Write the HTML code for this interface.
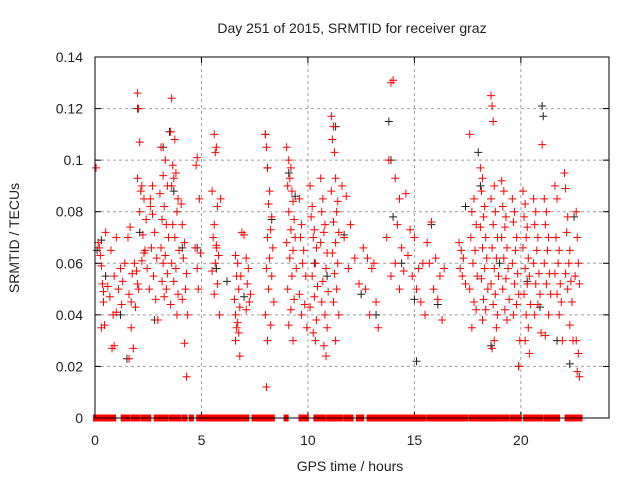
<!DOCTYPE html>
<html><head><meta charset="utf-8">
<style>
html,body{margin:0;padding:0;background:#fff;}
svg{display:block;font-family:"Liberation Sans",sans-serif;}
</style></head>
<body>
<svg id="chart" width="640" height="480" viewBox="0 0 640 480">
<rect x="0" y="0" width="640" height="480" fill="#fff"/>
<text x="352" y="33" font-size="14" text-anchor="middle" fill="#222">Day 251 of 2015, SRMTID for receiver graz</text>
<text transform="translate(19,238) rotate(-90)" font-size="14" text-anchor="middle" fill="#222">SRMTID / TECUs</text>
<text x="350" y="471" font-size="14" text-anchor="middle" fill="#222">GPS time / hours</text>
<g id="grid"></g>
<g id="ticks"></g>
<g id="zero"></g>
<g id="black"></g>
<g id="red"></g>
<rect x="95" y="57" width="514" height="361" fill="none" stroke="#000" stroke-width="1"/>
</svg>
<script>
const xTicks=[0,5,10,15,20];
const yTicks=[0,0.02,0.04,0.06,0.08,0.1,0.12,0.14];
const yTickLabels=["0","0.02","0.04","0.06","0.08","0.1","0.12","0.14"];
const redT=[0.05,0.2,0.25,0.3,0.35,0.4,0.45,0.3,0.5,0.15,0.4,
0.8,0.9,1.0,0.7,1.1,0.6,1.3,0.9,1.2,1.4,0.75,1.0,0.85,1.25,
1.6,1.8,1.7,1.9,1.6,2.0,1.75,1.85,2.3,1.55,1.65,2.2,1.95,1.7,2.05,
2.0,2.05,2.1,2.0,2.2,2.15,2.3,2.1,2.4,2.25,2.35,2.45,
2.6,2.7,2.8,2.65,2.9,2.75,2.55,2.85,2.95,2.6,2.7,
3.1,3.3,3.2,3.4,3.05,3.25,3.15,3.35,3.45,3.1,3.3,3.2,3.4,3.15,3.35,3.25,
3.6,3.55,3.75,3.65,3.8,3.7,3.6,3.9,3.85,3.65,3.75,3.95,3.6,3.8,3.7,3.9,3.55,3.85,
4.05,4.1,4.2,4.15,4.3,4.25,4.35,4.2,4.3,4.1,
4.8,4.75,4.9,4.7,4.95,4.8,4.85,
5.6,5.7,5.65,5.5,5.75,5.6,5.55,5.7,5.8,5.65,5.5,5.75,5.6,5.85,5.9,5.7,
6.6,6.7,6.65,6.75,6.55,6.8,6.6,6.7,6.65,6.75,6.6,6.8,6.9,7.0,6.85,
7.1,7.2,7.15,7.3,7.25,7.1,
8.0,8.05,8.1,8.2,8.15,8.3,8.25,8.1,8.35,8.2,8.05,8.3,8.15,8.4,8.0,8.25,8.1,8.05,
9.0,9.1,9.2,9.15,9.05,9.25,9.3,9.1,9.35,9.2,9.4,9.0,9.3,9.15,9.45,9.25,9.05,9.35,9.2,9.1,9.3,
9.6,9.7,9.65,9.8,9.75,9.9,9.6,9.85,9.7,9.95,
10.1,10.2,10.15,10.3,10.25,10.4,10.35,10.2,10.45,10.3,10.1,10.4,10.25,10.35,
10.6,10.7,10.65,10.8,10.75,10.6,10.9,10.85,10.7,10.95,10.65,10.8,10.9,10.75,10.85,
11.1,11.2,11.15,11.25,11.3,11.1,11.4,11.35,11.2,11.45,11.3,11.15,11.4,11.25,11.35,11.2,11.45,11.3,
11.6,11.8,12.0,11.7,12.2,11.9,12.4,
12.6,12.8,13.0,12.7,13.2,12.9,13.3,13.1,
13.9,14.0,13.8,14.1,14.3,14.2,13.7,14.4,14.1,13.9,14.3,
14.6,14.8,15.0,14.7,15.2,14.9,15.1,15.3,15.4,14.5,
15.8,15.6,16.0,15.7,16.2,15.9,16.1,15.5,16.3,16.4,
17.1,17.2,17.3,17.15,17.25,17.4,
17.6,17.8,17.7,17.9,17.65,17.85,17.75,17.95,17.6,17.8,17.9,17.7,
18.1,18.2,18.15,18.3,18.25,18.1,18.35,18.2,18.4,18.3,18.15,18.45,18.25,18.35,18.2,
18.6,18.65,18.7,18.75,18.6,18.8,18.7,18.9,18.65,18.85,18.75,18.95,18.6,18.8,18.7,18.9,18.85,18.75,18.65,
19.1,19.2,19.15,19.3,19.25,19.1,19.35,19.2,19.4,19.3,19.15,19.45,19.25,19.35,
19.6,19.7,19.65,19.8,19.75,19.6,19.85,19.7,19.9,19.8,19.65,19.95,19.9,
20.1,20.2,20.15,20.3,20.25,20.1,20.35,20.2,20.4,20.3,20.15,20.45,20.25,20.35,20.2,20.4,
20.6,20.7,20.65,20.8,20.75,20.6,20.85,20.7,20.9,20.8,20.65,20.95,
21.0,21.1,21.2,21.15,21.3,21.25,21.1,21.35,21.2,21.4,21.3,21.15,
21.6,21.7,21.65,21.8,21.75,21.6,21.85,21.7,21.9,21.8,21.95,
22.05,22.1,22.2,22.15,22.3,22.25,22.1,22.35,22.2,22.4,22.3,22.45,
22.6,22.65,22.7,22.55,22.75,22.6,22.7,22.65,22.75];
const redV=[0.097,0.066,0.063,0.059,0.052,0.045,0.036,0.035,0.072,0.068,0.049,
0.027,0.028,0.041,0.047,0.050,0.051,0.053,0.055,0.058,0.060,0.065,0.070,0.040,0.044,
0.023,0.027,0.035,0.043,0.048,0.052,0.056,0.060,0.064,0.070,0.074,0.061,0.057,0.045,0.050,
0.126,0.120,0.107,0.093,0.090,0.088,0.085,0.080,0.077,0.071,0.065,0.058,
0.082,0.079,0.072,0.066,0.062,0.055,0.050,0.046,0.038,0.085,0.090,
0.105,0.100,0.094,0.090,0.087,0.082,0.077,0.075,0.070,0.066,0.063,0.060,0.056,0.053,0.050,0.047,
0.124,0.111,0.108,0.098,0.095,0.093,0.090,0.085,0.080,0.075,0.070,0.065,0.060,0.058,0.053,0.048,0.044,0.040,
0.083,0.075,0.068,0.062,0.056,0.050,0.040,0.029,0.016,0.046,
0.101,0.098,0.085,0.066,0.064,0.058,0.050,
0.110,0.105,0.103,0.088,0.082,0.075,0.070,0.066,0.063,0.060,0.057,0.052,0.048,0.040,0.085,0.067,
0.063,0.060,0.055,0.050,0.046,0.043,0.040,0.037,0.035,0.033,0.030,0.024,0.072,0.071,0.055,
0.062,0.058,0.052,0.048,0.045,0.042,
0.110,0.105,0.097,0.088,0.083,0.078,0.073,0.070,0.066,0.062,0.058,0.055,0.050,0.045,0.040,0.036,0.030,0.012,
0.105,0.100,0.097,0.093,0.090,0.088,0.084,0.080,0.077,0.073,0.070,0.068,0.065,0.062,0.058,0.055,0.050,0.046,0.042,0.036,0.030,
0.085,0.075,0.070,0.065,0.060,0.055,0.048,0.044,0.040,0.035,
0.090,0.082,0.078,0.073,0.070,0.066,0.060,0.055,0.051,0.047,0.043,0.038,0.033,0.030,
0.093,0.085,0.080,0.075,0.072,0.068,0.064,0.058,0.053,0.049,0.045,0.040,0.035,0.028,0.024,
0.117,0.113,0.108,0.103,0.093,0.088,0.084,0.080,0.076,0.072,0.068,0.064,0.060,0.056,0.050,0.045,0.040,0.030,
0.090,0.086,0.075,0.070,0.062,0.058,0.052,
0.066,0.062,0.058,0.050,0.045,0.040,0.035,0.060,
0.130,0.131,0.100,0.093,0.085,0.075,0.070,0.066,0.060,0.055,0.050,
0.087,0.073,0.070,0.063,0.058,0.055,0.050,0.045,0.060,0.057,
0.076,0.068,0.062,0.060,0.055,0.050,0.046,0.040,0.038,0.058,
0.068,0.065,0.062,0.058,0.055,0.052,
0.110,0.085,0.080,0.075,0.070,0.065,0.060,0.055,0.050,0.045,0.042,0.035,
0.097,0.093,0.088,0.082,0.078,0.074,0.070,0.066,0.062,0.058,0.054,0.050,0.046,0.042,0.038,
0.125,0.121,0.115,0.090,0.085,0.080,0.075,0.070,0.066,0.062,0.058,0.055,0.052,0.048,0.044,0.040,0.035,0.030,0.027,
0.092,0.088,0.082,0.078,0.074,0.070,0.066,0.062,0.058,0.054,0.050,0.046,0.042,0.038,
0.085,0.080,0.076,0.070,0.065,0.060,0.056,0.052,0.048,0.044,0.040,0.030,0.020,
0.088,0.083,0.078,0.074,0.070,0.066,0.062,0.058,0.055,0.052,0.048,0.044,0.040,0.035,0.030,0.025,
0.085,0.080,0.075,0.070,0.065,0.060,0.056,0.052,0.048,0.044,0.040,0.033,
0.106,0.085,0.080,0.075,0.070,0.065,0.060,0.056,0.052,0.048,0.040,0.032,
0.090,0.085,0.070,0.065,0.060,0.056,0.052,0.048,0.045,0.040,0.030,
0.095,0.089,0.078,0.072,0.065,0.060,0.056,0.053,0.050,0.045,0.036,0.030,
0.080,0.070,0.060,0.055,0.052,0.030,0.025,0.018,0.016];
const blackT=[0.1,0.3,0.5,1.2,1.5,2.0,2.1,2.8,3.2,3.5,3.7,4.1,4.8,5.7,6.2,7.0,8.0,8.1,8.3,9.1,9.4,10.3,10.9,11.3,11.7,12.5,13.2,13.8,13.9,14.0,14.4,15.0,15.1,15.8,16.1,17.4,18.0,18.1,18.6,19.0,19.9,20.3,20.9,21.0,21.05,21.7,22.3,22.5];
const blackV=[0.065,0.069,0.055,0.040,0.023,0.120,0.072,0.038,0.105,0.111,0.088,0.066,0.066,0.058,0.053,0.047,0.110,0.097,0.077,0.095,0.086,0.060,0.055,0.113,0.071,0.048,0.040,0.115,0.100,0.078,0.060,0.046,0.022,0.075,0.044,0.082,0.103,0.090,0.028,0.060,0.020,0.053,0.043,0.121,0.117,0.030,0.021,0.078];
const zeroStart=[0.0,0.5,1.3,1.75,2.25,2.85,3.55,4.15,4.5,4.85,5.5,5.9,6.35,6.9,7.45,7.65,8.95,9.65,10.35,10.95,11.15,11.75,12.35,12.85,13.25,14.0,14.25,14.8,15.1,15.65,16.5,17.25,17.65,18.3,18.6,18.95,19.55,20.2,20.35,20.75,21.15,22.15,22.6];
const zeroEnd=[0.35,0.9,1.55,2.05,2.55,3.35,3.95,4.25,4.55,5.4,5.8,6.2,6.8,7.15,7.5,8.35,9.0,9.95,10.75,11.0,11.55,12.05,12.55,13.1,13.85,14.1,14.7,15.0,15.45,16.4,17.1,17.45,18.2,18.45,18.8,19.35,19.95,20.25,20.7,20.95,21.75,22.45,22.8];

const X0=95,X1=609,Y0=418,Y1=57,TMAX=24.14,VMAX=0.14;
function sx(t){return X0+t/TMAX*(X1-X0);}
function sy(v){return Y0-v/VMAX*(Y0-Y1);}
const NS='http://www.w3.org/2000/svg';
function mk(tag,attrs,parent){const e=document.createElementNS(NS,tag);for(const k in attrs)e.setAttribute(k,attrs[k]);parent.appendChild(e);return e;}
const grid=document.getElementById('grid'),ticks=document.getElementById('ticks');
xTicks.forEach((t,i)=>{
  const x=sx(t);
  if(t>0){const g=mk('line',{x1:x,x2:x,y1:Y1,y2:Y0,stroke:'#a0a0a0','stroke-dasharray':'3,3'},grid);
  
  }
  mk('line',{x1:x,x2:x,y1:Y0,y2:Y0-6,stroke:'#000'},ticks);
  mk('line',{x1:x,x2:x,y1:Y1,y2:Y1+6,stroke:'#000'},ticks);
  const l=mk('text',{x:x,y:445,'font-size':14,'text-anchor':'middle',fill:'#222'},ticks);
  l.textContent=String(t);
  
  
});
yTicks.forEach((v,i)=>{
  const y=sy(v);
  if(v>0&&v<VMAX){const g=mk('line',{x1:X0,x2:X1,y1:y,y2:y,stroke:'#a0a0a0','stroke-dasharray':'3,3'},grid);
  
  }
  mk('line',{x1:X0,x2:X0+6,y1:y,y2:y,stroke:'#000'},ticks);
  mk('line',{x1:X1,x2:X1-6,y1:y,y2:y,stroke:'#000'},ticks);
  const l=mk('text',{x:83,y:y+5,'font-size':14,'text-anchor':'end',fill:'#222'},ticks);
  l.textContent=yTickLabels[i];
  
  
});
function plus(g,x,y,c){
  const p=mk('path',{d:`M${x-4},${y}H${x+4}M${x},${y-4}V${y+4}`,stroke:c,'stroke-width':1,fill:'none'},g);
  return p;
}
const zg=document.getElementById('zero');
zeroStart.forEach((s,i)=>{
  const x0=sx(s)-2,x1=sx(zeroEnd[i])+2;
  const r=mk('rect',{x:x0,y:Y0-3.5,width:x1-x0,height:7,fill:'#ff0000'},zg);
  
  
});
const bg=document.getElementById('black');
blackT.forEach((t,i)=>{
  const p=plus(bg,sx(t),sy(blackV[i]),'#222');
  
  
});
const rg=document.getElementById('red');
redT.forEach((t,i)=>{
  const p=plus(rg,sx(t),sy(redV[i]),'#ff0000');
  
  
});
</script>
</body></html>
